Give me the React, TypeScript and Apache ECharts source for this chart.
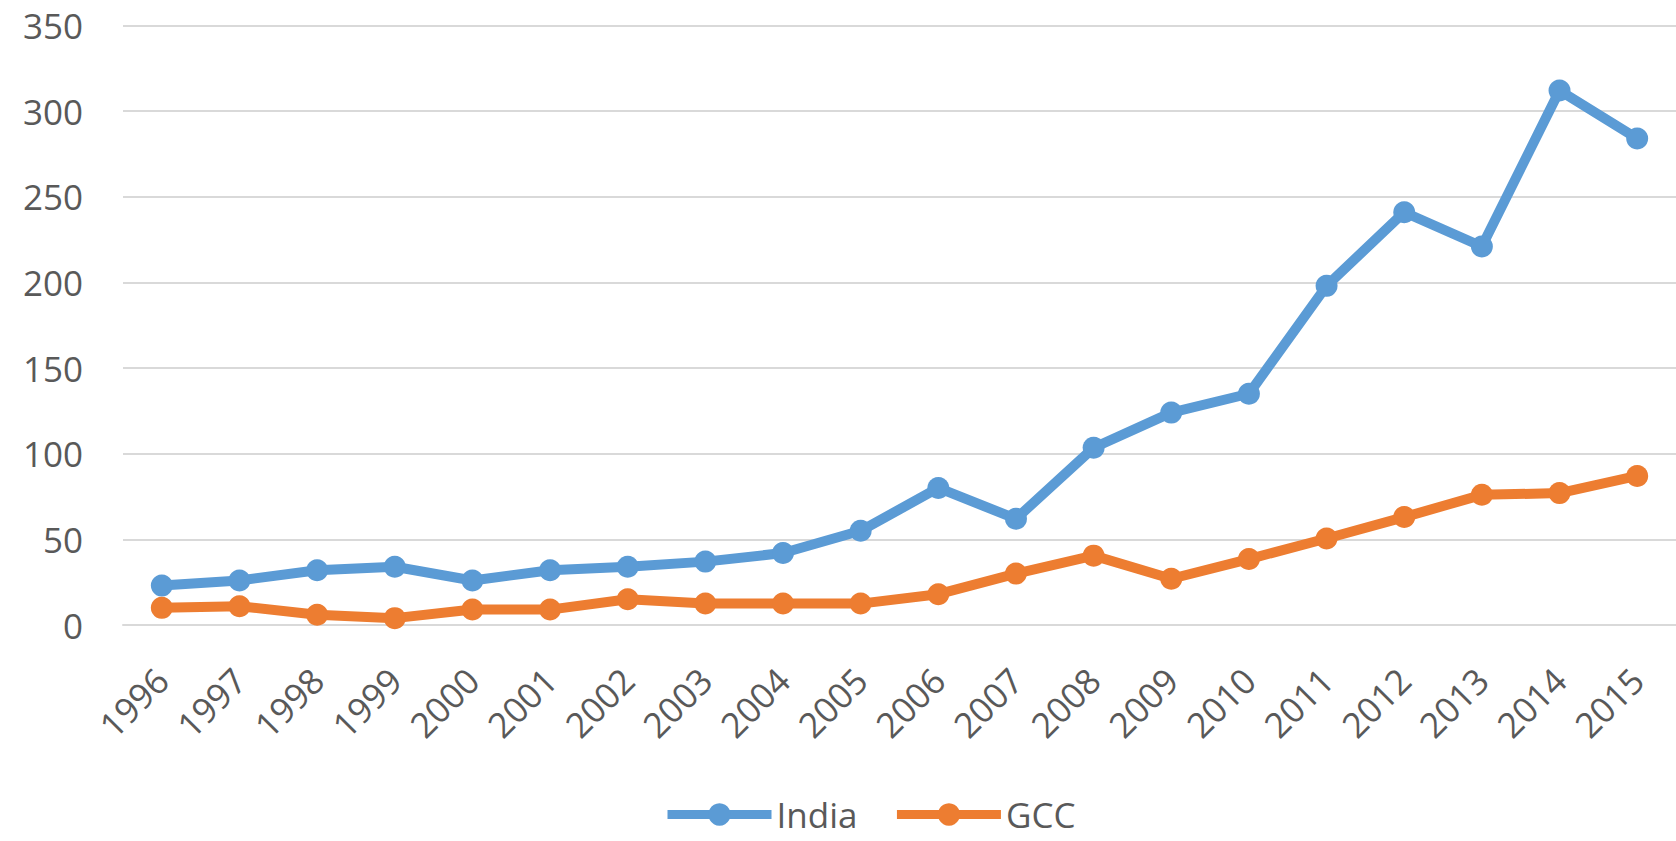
import React, { useEffect, useRef } from "react";
import * as echarts from "echarts";

const years = ["1996","1997","1998","1999","2000","2001","2002","2003","2004","2005","2006","2007","2008","2009","2010","2011","2012","2013","2014","2015"];
const india = [23, 26, 32, 34, 26, 32, 34, 37, 42, 55, 80, 62, 103.5, 124, 135, 198, 241, 221, 312, 284];
const gcc = [10, 11, 6, 4, 9, 9, 15, 12.5, 12.5, 12.5, 18, 30, 40.5, 27, 38.5, 50.5, 63, 76, 77, 87];
const yTicks = [0, 50, 100, 150, 200, 250, 300, 350];

export default function App() {
  const ref = useRef<HTMLDivElement>(null);
  useEffect(() => {
    if (!ref.current) return;
    const chart = echarts.init(ref.current, null, { renderer: "svg" });
    const font = "'Open Sans', 'Noto Sans', sans-serif";
    chart.setOption({
      animation: false,
      backgroundColor: "#ffffff",
      grid: { left: 123, right: 0, top: 25.5, bottom: 216, containLabel: false },
      legend: {
        data: ["India", "GCC"],
        top: 792,
        left: 658,
        itemWidth: 104,
        itemHeight: 28,
        itemGap: 35,
        lineStyle: { width: 9 },
        textStyle: { fontFamily: font, fontSize: 35, lineHeight: 34, color: "#595959" },
      },
      xAxis: {
        type: "category",
        data: years,
        boundaryGap: true,
        axisLine: { show: true, lineStyle: { color: "#D9D9D9", width: 2 } },
        axisTick: { show: false },
        axisLabel: {
          rotate: 45,
          margin: 49,
          interval: 0,
          fontFamily: font,
          fontSize: 35,
          color: "#595959",
        },
      },
      yAxis: {
        type: "value",
        min: yTicks[0],
        max: yTicks[yTicks.length - 1],
        interval: 50,
        axisLine: { show: false },
        axisTick: { show: false },
        splitLine: { lineStyle: { color: "#D9D9D9", width: 2 } },
        axisLabel: {
          margin: 40,
          fontFamily: font,
          fontSize: 35,
          color: "#595959",
        },
      },
      series: [
        {
          name: "India",
          type: "line",
          data: india,
          symbol: "circle",
          symbolSize: 22,
          itemStyle: { color: "#5B9BD5" },
          lineStyle: { color: "#5B9BD5", width: 10 },
        },
        {
          name: "GCC",
          type: "line",
          data: gcc,
          symbol: "circle",
          symbolSize: 22,
          itemStyle: { color: "#ED7D31" },
          lineStyle: { color: "#ED7D31", width: 10 },
        },
      ],
    });
    return () => chart.dispose();
  }, []);
  return (
    <div
      ref={ref}
      style={{ position: "absolute", left: 0, top: 0, width: 1676, height: 841 }}
    />
  );
}
